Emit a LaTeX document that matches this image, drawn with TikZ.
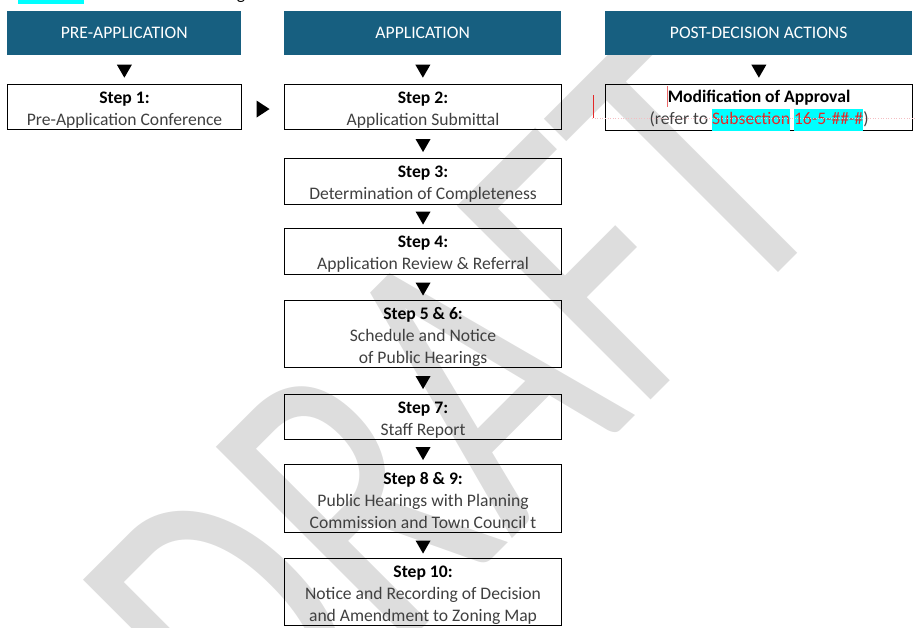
\documentclass[tikz,border=0pt]{standalone}
\usepackage{fontspec}
\setmainfont{Carlito}
\usetikzlibrary{calc}
\definecolor{hdrblue}{RGB}{23,95,128}
\definecolor{wmgray}{RGB}{221,221,221}
\definecolor{bodygray}{RGB}{64,64,64}
\definecolor{revred}{RGB}{228,40,40}
\definecolor{hlcyan}{RGB}{0,255,255}
\definecolor{revpink}{RGB}{244,190,195}
\newcommand\stepfont{\fontsize{17.6}{22}\selectfont}
\newcommand\hlword[1]{{\setlength\fboxsep{0pt}\colorbox{hlcyan}{\strut\textcolor{revred}{#1}}}}
\newcommand\stephead[1]{\rule{0pt}{17pt}\textcolor{black}{\textbf{#1}}}
\newcommand\downtri[1]{\fill ($(#1)+(-7.5,-6.5)$) -- ++(15,0) -- ++(-7.5,13) -- cycle;}
\newcommand\righttri[1]{\fill ($(#1)+(-6.5,-8.5)$) -- ++(0,17) -- ++(13,-8.5) -- cycle;}
\begin{document}
\begin{tikzpicture}[x=1pt,y=-1pt,
  hdr/.style={anchor=north west, fill=hdrblue, text=white, minimum height=44, inner sep=0pt, font=\stepfont},
  stepbox/.style={anchor=north west, draw=black, line width=1.1pt, inner sep=0pt, align=center, text=bodygray, font=\stepfont}]
\useasboundingbox (0,0) rectangle (915,627);
% watermark
\begin{scope}[shift={(262,789)}, rotate=45, yscale=1.4]
\node[transform shape, font=\fontsize{305}{305}\selectfont, text=wmgray, anchor=base west, inner sep=0pt] (wm) at (0,0) {DRAFT};
\end{scope}
% top remnants
\fill[hlcyan] (18,0) rectangle (84,4);
\node[anchor=base, font=\stepfont, inner sep=0pt] (gfrag) at (241,-1) {g};
% headers
\node[hdr, minimum width=234] (h1) at (7,11) {PRE-APPLICATION};
\node[hdr, minimum width=277] (h2) at (284,11) {APPLICATION};
\node[hdr, minimum width=307] (h3) at (605,11) {POST-DECISION ACTIONS};
% steps
\node[stepbox, minimum width=234, minimum height=45] (b1) at (7,84) {\stephead{Step 1:}\\Pre-Application Conference};
\node[stepbox, minimum width=277, minimum height=45] (b2) at (284,84) {\stephead{Step 2:}\\Application Submittal};
\node[stepbox, minimum width=277, minimum height=46] (b3) at (284,158) {\stephead{Step 3:}\\Determination of Completeness};
\node[stepbox, minimum width=277, minimum height=46] (b4) at (284,228) {\stephead{Step 4:}\\Application Review \& Referral};
\node[stepbox, minimum width=277, minimum height=67] (b5) at (284,300) {\stephead{Step 5 \& 6:}\\Schedule and Notice\\of Public Hearings};
\node[stepbox, minimum width=277, minimum height=45] (b7) at (284,394) {\stephead{Step 7:}\\Staff Report};
\node[stepbox, minimum width=277, minimum height=68] (b8) at (284,464) {\stephead{Step 8 \& 9:}\\Public Hearings with Planning\\Commission and Town Council t};
\node[stepbox, minimum width=277, minimum height=67] (b10) at (284,558) {\stephead{Step 10:}\\Notice and Recording of Decision\\and Amendment to Zoning Map};
\node[stepbox, minimum width=307, minimum height=45] (pm) at (605,84) {\rule{0pt}{17.5pt}\textcolor{black}{\textbf{Modification of Approval}}\\(refer to \hlword{Subsection} \hlword{16-5-\#\#-\#})};
% revision marks
\draw[revpink, line width=0.6pt, dotted] (592,118) -- (915,118);
\draw[revred, line width=1pt] (593,95) -- (593,118);
\draw[revred!70, line width=1pt] (667,86) -- (667,107);
% connectors (triangles)
\coordinate (t1) at ($(h1.south)!0.5!(b1.north)+(0,1.5)$);
\coordinate (t2) at ($(h2.south)!0.5!(b2.north)+(0,1.5)$);
\coordinate (t3) at ($(h3.south)!0.5!(pm.north)+(0,1.5)$);
\coordinate (t4) at ($(b2.south)!0.5!(b3.north)+(0,1.5)$);
\coordinate (t5) at ($(b3.south)!0.5!(b4.north)+(0,1.5)$);
\coordinate (t6) at ($(b4.south)!0.5!(b5.north)+(0,1.5)$);
\coordinate (t7) at ($(b5.south)!0.5!(b7.north)+(0,1.5)$);
\coordinate (t8) at ($(b7.south)!0.5!(b8.north)+(0,1.5)$);
\coordinate (t9) at ($(b8.south)!0.5!(b10.north)+(0,1.5)$);
\coordinate (tr) at ($(b1.east)!0.5!(b2.west)+(0,2)$);
\downtri{t1}\downtri{t2}\downtri{t3}\downtri{t4}\downtri{t5}\downtri{t6}\downtri{t7}\downtri{t8}\downtri{t9}
\righttri{tr}
\end{tikzpicture}
\end{document}
